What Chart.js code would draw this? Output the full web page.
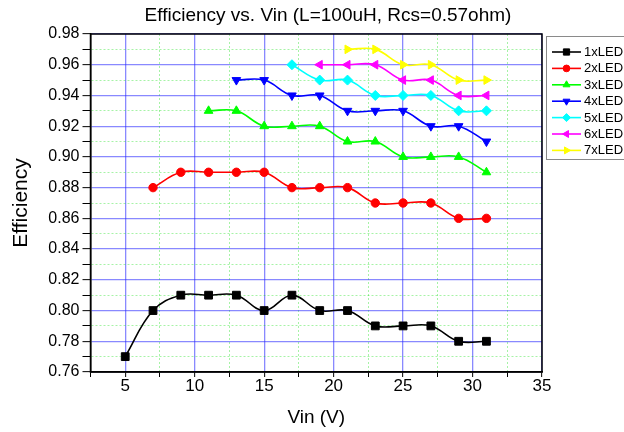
<!DOCTYPE html>
<html>
<head>
<meta charset="utf-8">
<script src="https://cdn.jsdelivr.net/npm/chart.js@4/dist/chart.umd.min.js"></script>
<style>
html,body{margin:0;padding:0;background:#fff;}
#wrap{width:624px;height:432px;}
</style>
</head>
<body>
<div id="wrap"><canvas id="c" width="624" height="432"></canvas></div>
<script>
const chartTitle = 'Efficiency vs. Vin (L=100uH, Rcs=0.57ohm)';
const xAxisTitle = 'Vin (V)';
const yAxisTitle = 'Efficiency';
const seriesNames = ['1xLED','2xLED','3xLED','4xLED','5xLED','6xLED','7xLED'];

const vin1 = [5,7,9,11,13,15,17,19,21,23,25,27,29,31];
const eff1 = [0.77,0.80,0.81,0.81,0.81,0.80,0.81,0.80,0.80,0.79,0.79,0.79,0.78,0.78];
const vin2 = [7,9,11,13,15,17,19,21,23,25,27,29,31];
const eff2 = [0.88,0.89,0.89,0.89,0.89,0.88,0.88,0.88,0.87,0.87,0.87,0.86,0.86];
const vin3 = [11,13,15,17,19,21,23,25,27,29,31];
const eff3 = [0.93,0.93,0.92,0.92,0.92,0.91,0.91,0.90,0.90,0.90,0.89];
const vin4 = [13,15,17,19,21,23,25,27,29,31];
const eff4 = [0.95,0.95,0.94,0.94,0.93,0.93,0.93,0.92,0.92,0.91];
const vin5 = [17,19,21,23,25,27,29,31];
const eff5 = [0.96,0.95,0.95,0.94,0.94,0.94,0.93,0.93];
const vin6 = [19,21,23,25,27,29,31];
const eff6 = [0.96,0.96,0.96,0.95,0.95,0.94,0.94];
const vin7 = [21,23,25,27,29,31];
const eff7 = [0.97,0.97,0.96,0.96,0.95,0.95];

const xMin = 2.5, xMax = 35, xStep = 2.5;
const yMin = 0.76, yMax = 0.98, yStep = 0.01;

const vins = [vin1,vin2,vin3,vin4,vin5,vin6,vin7];
const effs = [eff1,eff2,eff3,eff4,eff5,eff6,eff7];
const colors = ['#000000','#ff0000','#00ff00','#0000ff','#00ffff','#ff00ff','#ffff00'];
const styles = ['rect','circle','triangle','triangle','rectRot','triangle','triangle'];
const rotations = [0,0,0,180,0,270,90];
const radii = [5.5,4.2,5,5,5,5,5];

const FONT = "'Liberation Sans', Arial, Helvetica, sans-serif";

const datasets = seriesNames.map((name, i) => ({
  label: name,
  data: vins[i].map((x, j) => ({x: x, y: effs[i][j]})),
  borderColor: colors[i],
  backgroundColor: colors[i],
  pointBackgroundColor: colors[i],
  pointBorderColor: colors[i],
  pointStyle: styles[i],
  pointRotation: rotations[i],
  pointRadius: radii[i],
  pointHoverRadius: radii[i],
  pointBorderWidth: 1,
  borderWidth: 1.6,
  tension: 0.4,
  fill: false
}));

const isMinorY = v => Math.round(v * 100) % 2 !== 0;
const isMinorX = v => Math.abs(v % 5) > 1e-6;

const framePlugin = {
  id: 'frameLegendTitle',
  afterDraw(chart) {
    const ctx = chart.ctx;
    const a = chart.chartArea;
    ctx.save();
    // frame
    ctx.strokeStyle = '#000';
    ctx.lineWidth = 1.5;
    ctx.strokeRect(a.left, a.top, a.right - a.left, a.bottom - a.top);
    // title
    ctx.fillStyle = '#000';
    ctx.font = '19px ' + FONT;
    ctx.textAlign = 'center';
    ctx.textBaseline = 'middle';
    ctx.fillText(chartTitle, 328, 16);
    // legend
    ctx.strokeStyle = '#8a8a8a';
    ctx.lineWidth = 1;
    ctx.strokeRect(546.5, 36.5, 100, 123);
    const lx1 = 552, lx2 = 581, mx = 566.5, tx = 584, y0 = 52, dy = 16.4;
    ctx.font = '13px ' + FONT;
    ctx.textAlign = 'left';
    chart.data.datasets.forEach((ds, i) => {
      const y = y0 + i * dy;
      ctx.strokeStyle = ds.borderColor;
      ctx.lineWidth = 1.6;
      ctx.beginPath();
      ctx.moveTo(lx1, y);
      ctx.lineTo(lx2, y);
      ctx.stroke();
      ctx.fillStyle = ds.backgroundColor;
      ctx.strokeStyle = ds.borderColor;
      ctx.lineWidth = 1;
      Chart.helpers.drawPoint(ctx, {pointStyle: ds.pointStyle, rotation: ds.pointRotation, radius: ds.pointRadius * 0.8, borderWidth: 1}, mx, y);
      ctx.fillStyle = '#000';
      ctx.fillText(ds.label, tx, y + 0.5);
    });
    ctx.restore();
  }
};

new Chart(document.getElementById('c'), {
  type: 'line',
  data: { datasets: datasets },
  options: {
    responsive: false,
    animation: false,
    layout: { padding: { top: 34, right: 82, left: 0, bottom: 0 } },
    plugins: { legend: { display: false }, title: { display: false }, tooltip: { enabled: false } },
    scales: {
      x: {
        type: 'linear',
        min: xMin, max: xMax,
        afterFit: s => { s.height = 60; },
        ticks: {
          stepSize: xStep, autoSkip: false, maxRotation: 0, minRotation: 0,
          callback: v => isMinorX(v) ? '' : String(v),
          font: { size: 17, family: FONT, lineHeight: 1 },
          color: '#000', padding: 1
        },
        grid: {
          color: c => (c.tick && isMinorX(c.tick.value)) ? 'rgba(0,220,0,0.35)' : 'rgba(40,40,255,0.55)',
          lineWidth: c => (c.tick && isMinorX(c.tick.value)) ? 1 : 1.3,
          tickColor: '#000', tickLength: 5, tickWidth: 1
        },
        border: {
          color: '#000', width: 1.5,
          dash: c => (c.tick && isMinorX(c.tick.value)) ? [2, 2] : []
        },
        title: { display: true, text: xAxisTitle, color: '#000', font: { size: 19, family: FONT }, padding: { top: 0, bottom: 3 } }
      },
      y: {
        min: yMin, max: yMax,
        afterFit: s => { s.width = 90.5; },
        ticks: {
          stepSize: yStep, autoSkip: false,
          callback: v => isMinorY(v) ? '' : v.toFixed(2),
          font: { size: 16, family: FONT },
          color: '#000', padding: 3
        },
        grid: {
          color: c => (c.tick && isMinorY(c.tick.value)) ? 'rgba(0,220,0,0.35)' : 'rgba(40,40,255,0.55)',
          lineWidth: c => (c.tick && isMinorY(c.tick.value)) ? 1 : 1.3,
          tickColor: '#000', tickLength: 8, tickWidth: 1
        },
        border: {
          color: '#000', width: 1.5,
          dash: c => (c.tick && isMinorY(c.tick.value)) ? [2, 2] : []
        },
        title: { display: true, text: yAxisTitle, color: '#000', font: { size: 21, family: FONT }, padding: { top: 9, bottom: 0 } }
      }
    }
  },
  plugins: [framePlugin]
});
</script>
</body>
</html>
